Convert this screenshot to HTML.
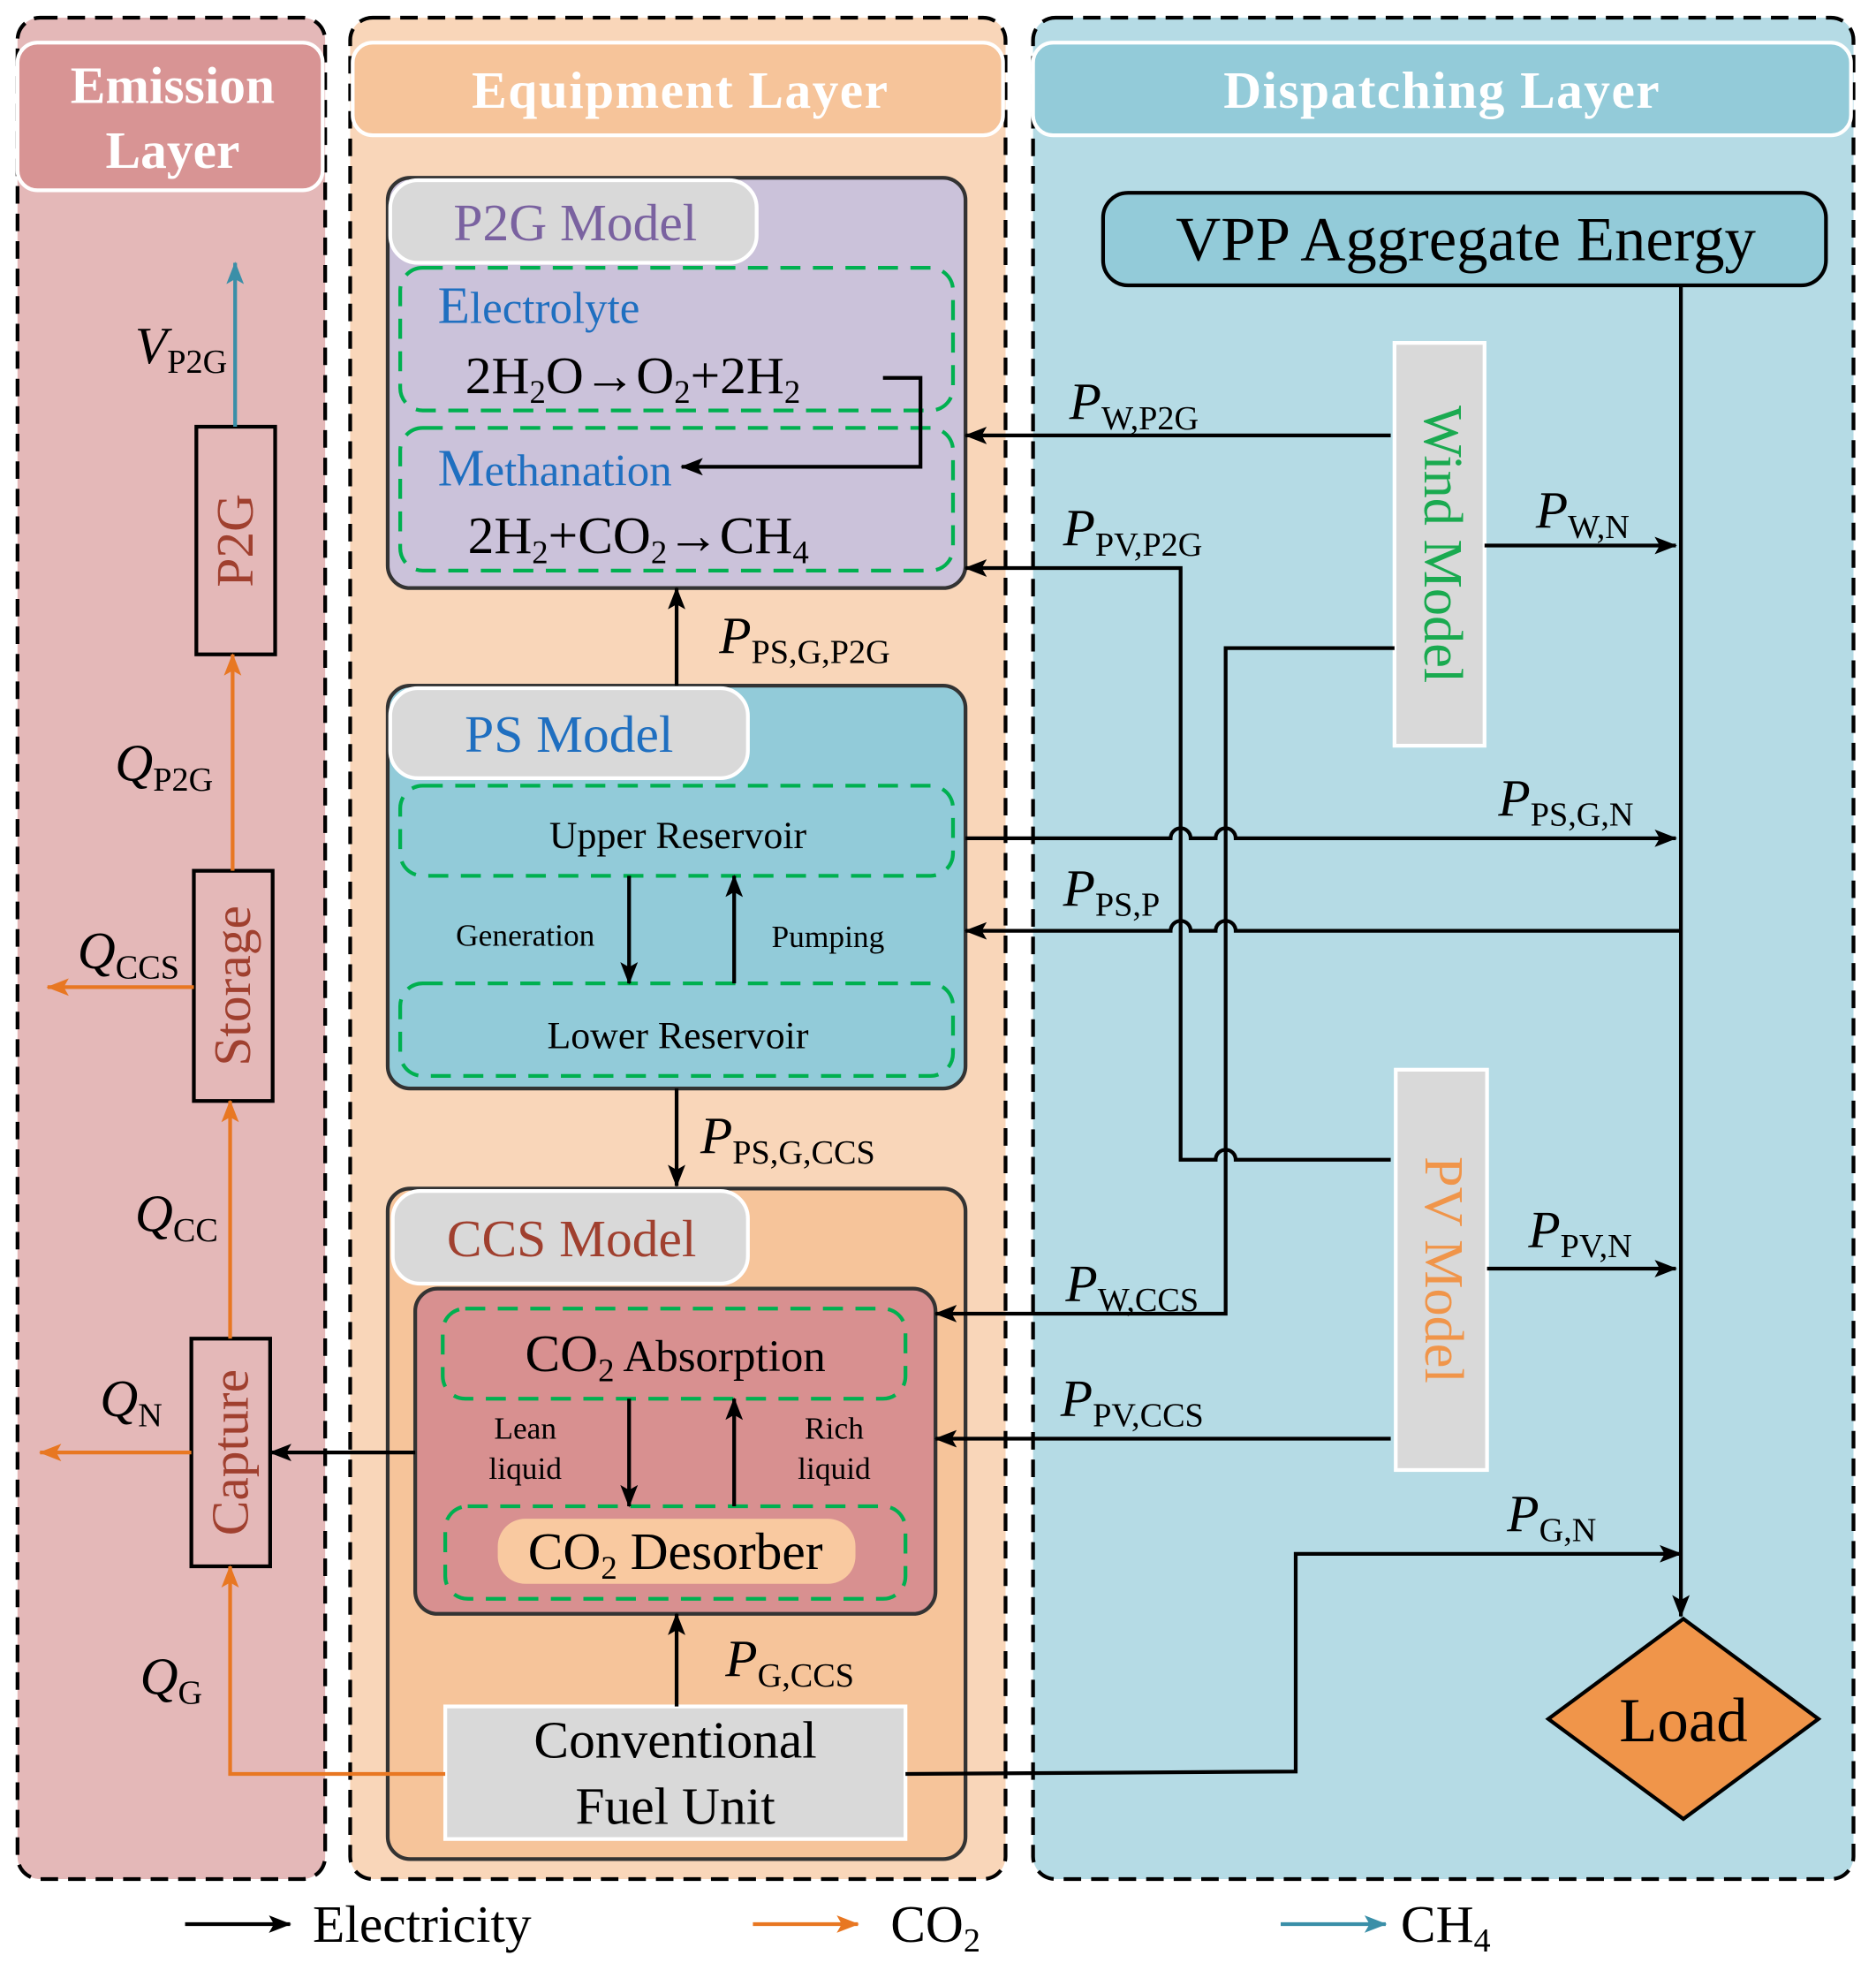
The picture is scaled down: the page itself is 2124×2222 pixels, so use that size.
<!DOCTYPE html>
<html><head><meta charset="utf-8"><style>
html,body{margin:0;padding:0;background:#fff}
svg{display:block}
svg, text, tspan{font-family:"Liberation Serif","Times New Roman",Times,"DejaVu Serif",serif}
</style></head><body>
<svg width="2124" height="2222" viewBox="0 0 1500 1569" xmlns="http://www.w3.org/2000/svg" font-family="Liberation Serif, Times New Roman, serif">
<defs>
<marker id="akb" markerWidth="18" markerHeight="14" refX="17" refY="7" orient="auto" markerUnits="userSpaceOnUse" viewBox="0 0 18 14"><path d="M0,0 L18,7 L0,14 L4,7z" fill="#000"/></marker>
<marker id="ao" markerWidth="18" markerHeight="14" refX="17" refY="7" orient="auto" markerUnits="userSpaceOnUse" viewBox="0 0 18 14"><path d="M0,0 L18,7 L0,14 L4,7z" fill="#e87722"/></marker>
<marker id="at" markerWidth="18" markerHeight="14" refX="17" refY="7" orient="auto" markerUnits="userSpaceOnUse" viewBox="0 0 18 14"><path d="M0,0 L18,7 L0,14 L4,7z" fill="#3a8fa8"/></marker>
</defs>
<!-- layers -->
<rect x="14" y="14" width="246" height="1488" rx="18" fill="#e4b8b8" stroke="#000" stroke-width="3" stroke-dasharray="14,8"/>
<rect x="14" y="34" width="244" height="118" rx="16" fill="#d89494" stroke="#fff" stroke-width="3"/>
<text x="138" y="82" font-size="42" font-weight="bold" fill="#fff" text-anchor="middle">Emission</text>
<text x="138" y="134" font-size="42" font-weight="bold" fill="#fff" text-anchor="middle">Layer</text>

<rect x="280" y="14" width="524" height="1488" rx="18" fill="#f9d6b9" stroke="#000" stroke-width="3" stroke-dasharray="14,8"/>
<rect x="282" y="34" width="520" height="74" rx="16" fill="#f6c49a" stroke="#fff" stroke-width="3"/>
<text x="544" y="86" font-size="42" font-weight="bold" fill="#fff" text-anchor="middle" letter-spacing="1">Equipment Layer</text>

<rect x="826" y="14" width="656" height="1488" rx="18" fill="#b5dbe5" stroke="#000" stroke-width="3" stroke-dasharray="14,8"/>
<rect x="826" y="34" width="654" height="74" rx="16" fill="#93cbd9" stroke="#fff" stroke-width="3"/>
<text x="1153" y="86" font-size="42" font-weight="bold" fill="#fff" text-anchor="middle" letter-spacing="1">Dispatching Layer</text>

<!-- P2G model -->
<rect x="310" y="142" width="462" height="328" rx="18" fill="#cbc2da" stroke="#333" stroke-width="3"/>
<rect x="312" y="144" width="293" height="66" rx="22" fill="#d9d9d9" stroke="#fff" stroke-width="3"/>
<text x="460" y="192" font-size="42" fill="#7a62a0" text-anchor="middle">P2G Model</text>
<rect x="320" y="214" width="442" height="114" rx="18" fill="none" stroke="#00b050" stroke-width="3" stroke-dasharray="16,10"/>
<rect x="320" y="342" width="442" height="114" rx="18" fill="none" stroke="#00b050" stroke-width="3" stroke-dasharray="16,10"/>
<text x="350" y="258" font-size="36" fill="#1f6fc0"><tspan font-size="42">E</tspan>lectrolyte</text>
<text x="372" y="314" font-size="42">2H<tspan font-size="26" dy="8">2</tspan><tspan dy="-8">O→O</tspan><tspan font-size="26" dy="8">2</tspan><tspan dy="-8">+2H</tspan><tspan font-size="26" dy="8">2</tspan></text>
<text x="350" y="388" font-size="36" fill="#1f6fc0"><tspan font-size="42">M</tspan>ethanation</text>
<text x="374" y="442" font-size="42">2H<tspan font-size="26" dy="8">2</tspan><tspan dy="-8">+CO</tspan><tspan font-size="26" dy="8">2</tspan><tspan dy="-8">→CH</tspan><tspan font-size="26" dy="8">4</tspan></text>
<path d="M706,302 L736,302 L736,373 L545,373" fill="none" stroke="#000" stroke-width="3" marker-end="url(#akb)"/>

<!-- PS model -->
<rect x="310" y="548" width="462" height="322" rx="18" fill="#92cbd9" stroke="#333" stroke-width="3"/>
<rect x="312" y="550" width="286" height="72" rx="22" fill="#d9d9d9" stroke="#fff" stroke-width="3"/>
<text x="455" y="601" font-size="42" fill="#1f6fc0" text-anchor="middle">PS Model</text>
<rect x="320" y="628" width="442" height="72" rx="18" fill="none" stroke="#00b050" stroke-width="3" stroke-dasharray="16,10"/>
<rect x="320" y="786" width="442" height="74" rx="18" fill="none" stroke="#00b050" stroke-width="3" stroke-dasharray="16,10"/>
<text x="542" y="678" font-size="31" text-anchor="middle">Upper Reservoir</text>
<text x="542" y="838" font-size="31" text-anchor="middle">Lower Reservoir</text>
<text x="420" y="756" font-size="25" text-anchor="middle">Generation</text>
<text x="662" y="757" font-size="25" text-anchor="middle">Pumping</text>
<line x1="503" y1="700" x2="503" y2="786" stroke="#000" stroke-width="3" marker-end="url(#akb)"/>
<line x1="587" y1="786" x2="587" y2="700" stroke="#000" stroke-width="3" marker-end="url(#akb)"/>
<line x1="541" y1="548" x2="541" y2="470" stroke="#000" stroke-width="3" marker-end="url(#akb)"/>
<text x="575" y="522" font-size="42" font-style="italic">P<tspan font-style="normal" font-size="27" dy="8">PS,G,P2G</tspan></text>
<line x1="541" y1="870" x2="541" y2="948" stroke="#000" stroke-width="3" marker-end="url(#akb)"/>
<text x="560" y="922" font-size="42" font-style="italic">P<tspan font-style="normal" font-size="27" dy="8">PS,G,CCS</tspan></text>

<!-- CCS model -->
<rect x="310" y="950" width="462" height="536" rx="18" fill="#f6c49a" stroke="#333" stroke-width="3"/>
<rect x="314" y="952" width="284" height="74" rx="22" fill="#d9d9d9" stroke="#fff" stroke-width="3"/>
<text x="457" y="1004" font-size="42" fill="#a0402f" text-anchor="middle">CCS Model</text>
<rect x="332" y="1030" width="416" height="260" rx="18" fill="#d89090" stroke="#333" stroke-width="3"/>
<rect x="354" y="1046" width="370" height="72" rx="18" fill="none" stroke="#00b050" stroke-width="3" stroke-dasharray="16,10"/>
<rect x="356" y="1204" width="368" height="74" rx="18" fill="none" stroke="#00b050" stroke-width="3" stroke-dasharray="16,10"/>
<rect x="398" y="1214" width="286" height="52" rx="22" fill="#f9c9a0"/>
<text x="540" y="1096" font-size="42" text-anchor="middle">CO<tspan font-size="26" dy="8">2</tspan><tspan dy="-8" font-size="36"> Absorption</tspan></text>
<text x="540" y="1254" font-size="42" text-anchor="middle">CO<tspan font-size="26" dy="8">2</tspan><tspan dy="-8"> Desorber</tspan></text>
<text x="420" y="1150" font-size="25" text-anchor="middle">Lean</text>
<text x="420" y="1182" font-size="25" text-anchor="middle">liquid</text>
<text x="667" y="1150" font-size="25" text-anchor="middle">Rich</text>
<text x="667" y="1182" font-size="25" text-anchor="middle">liquid</text>
<line x1="503" y1="1118" x2="503" y2="1204" stroke="#000" stroke-width="3" marker-end="url(#akb)"/>
<line x1="587" y1="1204" x2="587" y2="1118" stroke="#000" stroke-width="3" marker-end="url(#akb)"/>
<rect x="356" y="1364" width="368" height="106" fill="#d9d9d9" stroke="#fff" stroke-width="3"/>
<text x="540" y="1405" font-size="42" text-anchor="middle">Conventional</text>
<text x="540" y="1458" font-size="42" text-anchor="middle">Fuel Unit</text>
<line x1="541" y1="1364" x2="541" y2="1290" stroke="#000" stroke-width="3" marker-end="url(#akb)"/>
<text x="580" y="1340" font-size="42" font-style="italic">P<tspan font-style="normal" font-size="27" dy="8">G,CCS</tspan></text>

<!-- Emission layer -->
<rect x="157" y="341" width="63" height="182" fill="none" stroke="#000" stroke-width="3"/>
<text transform="translate(202,432) rotate(-90)" font-size="42" fill="#a0402f" text-anchor="middle">P2G</text>
<rect x="155" y="696" width="63" height="184" fill="none" stroke="#000" stroke-width="3"/>
<text transform="translate(200,788) rotate(-90)" font-size="42" fill="#a0402f" text-anchor="middle">Storage</text>
<rect x="153" y="1070" width="63" height="182" fill="none" stroke="#000" stroke-width="3"/>
<text transform="translate(198,1161) rotate(-90)" font-size="42" fill="#a0402f" text-anchor="middle">Capture</text>
<line x1="188" y1="341" x2="188" y2="210" stroke="#3a8fa8" stroke-width="3" marker-end="url(#at)"/>
<text x="108" y="290" font-size="42" font-style="italic">V<tspan font-style="normal" font-size="27" dy="8">P2G</tspan></text>
<line x1="186" y1="696" x2="186" y2="523" stroke="#e87722" stroke-width="3" marker-end="url(#ao)"/>
<text x="92" y="624" font-size="42" font-style="italic">Q<tspan font-style="normal" font-size="27" dy="8">P2G</tspan></text>
<line x1="155" y1="789" x2="38" y2="789" stroke="#e87722" stroke-width="3" marker-end="url(#ao)"/>
<text x="62" y="774" font-size="42" font-style="italic">Q<tspan font-style="normal" font-size="27" dy="8">CCS</tspan></text>
<line x1="184" y1="1070" x2="184" y2="880" stroke="#e87722" stroke-width="3" marker-end="url(#ao)"/>
<text x="108" y="984" font-size="42" font-style="italic">Q<tspan font-style="normal" font-size="27" dy="8">CC</tspan></text>
<line x1="153" y1="1161" x2="32" y2="1161" stroke="#e87722" stroke-width="3" marker-end="url(#ao)"/>
<text x="80" y="1132" font-size="42" font-style="italic">Q<tspan font-style="normal" font-size="27" dy="8">N</tspan></text>
<path d="M356,1418 L184,1418 L184,1252" fill="none" stroke="#e87722" stroke-width="3" marker-end="url(#ao)"/>
<text x="112" y="1354" font-size="42" font-style="italic">Q<tspan font-style="normal" font-size="27" dy="8">G</tspan></text>
<line x1="332" y1="1161" x2="216" y2="1161" stroke="#000" stroke-width="3" marker-end="url(#akb)"/>

<!-- Dispatch -->
<rect x="882" y="154" width="578" height="74" rx="20" fill="#93cbd9" stroke="#000" stroke-width="3"/>
<text x="1172" y="208" font-size="50" text-anchor="middle">VPP Aggregate Energy</text>
<line x1="1344" y1="228" x2="1344" y2="1292" stroke="#000" stroke-width="3" marker-end="url(#akb)"/>
<polygon points="1346,1294 1454,1374 1346,1454 1238,1374" fill="#f0954a" stroke="#000" stroke-width="3"/>
<text x="1346" y="1392" font-size="50" text-anchor="middle">Load</text>
<rect x="1115" y="274" width="72" height="322" fill="#d9d9d9" stroke="#fff" stroke-width="3"/>
<text transform="translate(1139,435) rotate(90)" font-size="44" fill="#1aaa50" text-anchor="middle">Wind Model</text>
<rect x="1116" y="855" width="73" height="320" fill="#d9d9d9" stroke="#fff" stroke-width="3"/>
<text transform="translate(1140,1015) rotate(90)" font-size="44" fill="#f0954a" text-anchor="middle">PV Model</text>

<g fill="none" stroke="#000" stroke-width="3">
<path d="M1112,348 L772,348" marker-end="url(#akb)"/>
<path d="M1112,927 L988,927 A8,8 0 0 0 972,927 L944,927 L944,454 L772,454" marker-end="url(#akb)"/>
<path d="M1115,518 L980,518 L980,1050 L748,1050" marker-end="url(#akb)"/>
<path d="M1187,436 L1340,436" marker-end="url(#akb)"/>
<path d="M772,670 L936,670 A8,8 0 0 1 952,670 L972,670 A8,8 0 0 1 988,670 L1340,670" marker-end="url(#akb)"/>
<path d="M1344,744 L988,744 A8,8 0 0 0 972,744 L952,744 A8,8 0 0 0 936,744 L772,744" marker-end="url(#akb)"/>
<path d="M1189,1014 L1340,1014" marker-end="url(#akb)"/>
<path d="M1112,1150 L748,1150" marker-end="url(#akb)"/>
<path d="M724,1418 L1036,1416 L1036,1242 L1344,1242" marker-end="url(#akb)"/>
</g>
<text x="855" y="335" font-size="42" font-style="italic">P<tspan font-style="normal" font-size="27" dy="8">W,P2G</tspan></text>
<text x="850" y="436" font-size="42" font-style="italic">P<tspan font-style="normal" font-size="27" dy="8">PV,P2G</tspan></text>
<text x="1228" y="422" font-size="42" font-style="italic">P<tspan font-style="normal" font-size="27" dy="8">W,N</tspan></text>
<text x="1198" y="652" font-size="42" font-style="italic">P<tspan font-style="normal" font-size="27" dy="8">PS,G,N</tspan></text>
<text x="850" y="724" font-size="42" font-style="italic">P<tspan font-style="normal" font-size="27" dy="8">PS,P</tspan></text>
<text x="1222" y="997" font-size="42" font-style="italic">P<tspan font-style="normal" font-size="27" dy="8">PV,N</tspan></text>
<text x="852" y="1040" font-size="42" font-style="italic">P<tspan font-style="normal" font-size="27" dy="8">W,CCS</tspan></text>
<text x="848" y="1132" font-size="42" font-style="italic">P<tspan font-style="normal" font-size="27" dy="8">PV,CCS</tspan></text>
<text x="1205" y="1224" font-size="42" font-style="italic">P<tspan font-style="normal" font-size="27" dy="8">G,N</tspan></text>

<!-- legend -->
<line x1="148" y1="1538" x2="232" y2="1538" stroke="#000" stroke-width="3" marker-end="url(#akb)"/>
<text x="250" y="1552" font-size="42">Electricity</text>
<line x1="602" y1="1538" x2="686" y2="1538" stroke="#e87722" stroke-width="3" marker-end="url(#ao)"/>
<text x="712" y="1552" font-size="42">CO<tspan font-size="27" dy="8">2</tspan></text>
<line x1="1024" y1="1538" x2="1108" y2="1538" stroke="#3a8fa8" stroke-width="3" marker-end="url(#at)"/>
<text x="1120" y="1552" font-size="42">CH<tspan font-size="27" dy="8">4</tspan></text>
</svg>
</body></html>
